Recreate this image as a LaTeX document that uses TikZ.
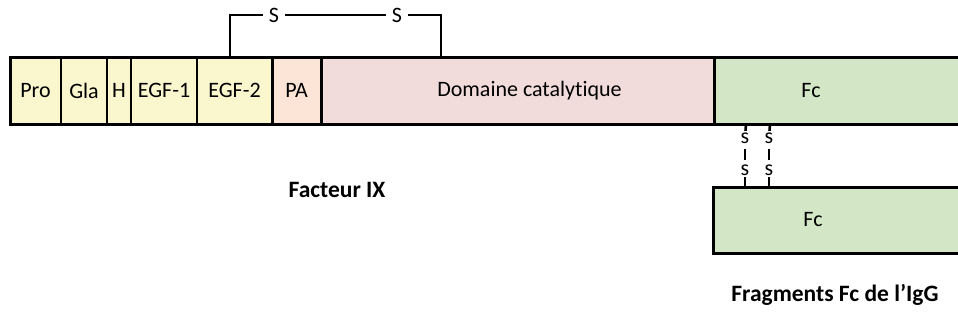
\documentclass[tikz,border=0pt]{standalone}
\usepackage{fontspec}
\setmainfont{Carlito}[Ligatures=NoCommon]
\usetikzlibrary{positioning}
\tikzset{>=latex}
\definecolor{glayellow}{RGB}{250,246,205}
\definecolor{papeach}{RGB}{252,228,214}
\definecolor{catpink}{RGB}{242,220,219}
\definecolor{fcgreen}{RGB}{211,230,198}
\tikzset{
    seg/.style={draw, line width=1.3pt, minimum height=67, inner sep=0pt, outer sep=0pt},
    frame/.style={line width=3pt},
    bond/.style={line width=2.8pt},
    sbond/.style={inner xsep=6pt, inner ysep=0pt},
    sdash/.style={inner xsep=0pt, inner ysep=1.5pt},
    dbond/.style={line width=2.6pt}
}

\begin{document}
\begin{tikzpicture}[x=1pt, y=-1pt, font=\fontsize{22}{26}\selectfont]
    \useasboundingbox(0, 0)rectangle(958, 322);
    % facteur IX
    \node[seg, fill=glayellow, minimum width=51, anchor=west](pro)at(10, 90.5){Pro};
    \node[seg, fill=glayellow, minimum width=46, right=0pt of pro](gla){Gla};
    \node[seg, fill=glayellow, minimum width=24, right=0pt of gla](h){H};
    \node[seg, fill=glayellow, minimum width=66, right=0pt of h](egf1){EGF-1};
    \node[seg, fill=glayellow, minimum width=75, right=0pt of egf1](egf2){EGF-2};
    \node[seg, fill=papeach, minimum width=49, right=0pt of egf2](pa){PA};
    \node[seg, fill=catpink, minimum width=393, right=0pt of pa](dom){\hspace{24pt}Domaine catalytique};
    \node[seg, fill=fcgreen, minimum width=260, right=0pt of dom, label={[xshift=-33]center:Fc}](fc){};
    \draw[frame](pro.north west)rectangle(fc.south east);
    \draw[frame](egf2.north east)--(egf2.south east);
    \draw[frame](pa.north east)--(pa.south east);
    \draw[frame](dom.north east)--(dom.south east);
    % pont disulfure
    \coordinate(b1)at([xshift=33]egf2.north west);
    \coordinate(b2)at([xshift=120]dom.north west);
    \node[sbond](s1)at(274, 15){S};
    \node[sbond](s2)at(397, 15){S};
    \draw[bond](b1)|-(s1)--(s2)-|(b2);
    \node[font=\fontsize{23.5}{28}\selectfont\bfseries](fix)at(337, 190){Facteur IX};
    % fragment Fc
    \node[seg, fill=fcgreen, minimum width=260, minimum height=66, anchor=north west, label={[xshift=-30]center:Fc}](fcb)at(713, 187){};
    \draw[frame](fcb.north east)--(fcb.north west)--(fcb.south west)--(fcb.south east);
    \coordinate(d1)at([xshift=32]fc.south west);
    \coordinate(d2)at([xshift=32]fcb.north west);
    \coordinate(d3)at([xshift=56]fc.south west);
    \coordinate(d4)at([xshift=56]fcb.north west);
    \node[sdash](sa)at(745, 138){s};
    \node[sdash](sb)at(745, 170){s};
    \node[sdash](sc)at(769, 138){s};
    \node[sdash](sd)at(769, 170){s};
    \draw[dbond](d1)--(sa);
    \draw[dbond, shorten <=4pt, shorten >=3pt](sa)--(sb);
    \draw[dbond](sb)--(d2);
    \draw[dbond](d3)--(sc);
    \draw[dbond, shorten <=4pt, shorten >=3pt](sc)--(sd);
    \draw[dbond](sd)--(d4);
    \node[font=\fontsize{23.5}{28}\selectfont\bfseries](figg)at(835, 295){Fragments Fc de l’IgG};
\end{tikzpicture}
\end{document}
